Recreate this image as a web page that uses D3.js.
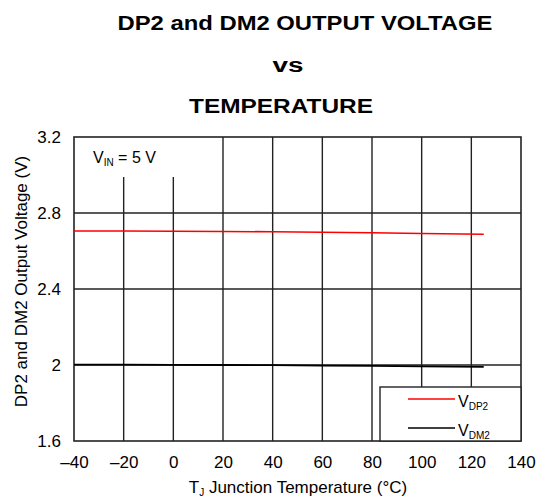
<!DOCTYPE html>
<html>
<head>
<meta charset="utf-8">
<script src="https://cdn.jsdelivr.net/npm/d3@7"></script>
<style>
  body { margin: 0; background: #fff; }
  text { font-family: Arial, "Liberation Sans", sans-serif; fill: #000; }
</style>
</head>
<body>
<div id="chart"></div>
<script>
// Data
const temps = [-40, -20, 0, 20, 40, 60, 80, 100, 125];
const vdp2 = [2.705, 2.705, 2.704, 2.703, 2.701, 2.699, 2.696, 2.692, 2.688];
const vdm2 = [2.002, 2.002, 2.001, 2.0, 1.999, 1.997, 1.995, 1.993, 1.99];
const xTicks = [-40, -20, 0, 20, 40, 60, 80, 100, 120, 140];
const yTicks = [1.6, 2, 2.4, 2.8, 3.2];
const seriesNames = ['V_DP2', 'V_DM2'];

const W = 543, H = 499;
const margin = { top: 137, right: 22, bottom: 58, left: 74 };
const width = W - margin.left - margin.right;
const height = H - margin.top - margin.bottom;

const svg = d3.select('#chart')
  .append('svg')
  .attr('width', W)
  .attr('height', H);

const titles = [
  { t: 'DP2 and DM2 OUTPUT VOLTAGE', x: 305, y: 30, w: 375 },
  { t: 'vs', x: 288, y: 72, w: 31 },
  { t: 'TEMPERATURE', x: 281, y: 113, w: 184 }
];
svg.selectAll('.title')
  .data(titles)
  .enter().append('text')
  .attr('class', 'title')
  .attr('x', d => d.x - d.w / 2)
  .attr('y', d => d.y)
  .attr('textLength', d => d.w)
  .attr('lengthAdjust', 'spacingAndGlyphs')
  .style('font-size', '20px')
  .style('font-weight', 'bold')
  .text(d => d.t);

const g = svg.append('g')
  .attr('transform', `translate(${margin.left},${margin.top})`);

const x = d3.scaleLinear().domain([-40, 140]).range([0, width]);
const y = d3.scaleLinear().domain([1.6, 3.2]).range([height, 0]);

// Legend box position (pixels inside plot)
const legX = 306, legY = 250;

const gridColor = '#222';

// horizontal grid
g.selectAll('.hgrid')
  .data(yTicks.slice(1, -1))
  .enter().append('line')
  .attr('x1', 0).attr('x2', width)
  .attr('y1', d => y(d)).attr('y2', d => y(d))
  .style('stroke', gridColor)
  .style('stroke-width', 1.4);

// vertical grid: some lines shortened around the label and legend
const vStart = { '-20': y(2.99), '0': y(2.99) };
const vEnd = { '100': legY, '120': legY };
g.selectAll('.vgrid')
  .data(xTicks.slice(1, -1))
  .enter().append('line')
  .attr('x1', d => x(d)).attr('x2', d => x(d))
  .attr('y1', d => vStart[d] !== undefined ? vStart[d] : 0)
  .attr('y2', d => vEnd[d] !== undefined ? vEnd[d] : height)
  .style('stroke', gridColor)
  .style('stroke-width', 1.4);

// frame
g.append('rect')
  .attr('width', width).attr('height', height)
  .style('fill', 'none')
  .style('stroke', gridColor)
  .style('stroke-width', 1.6);

// axes
const xAxis = d3.axisBottom(x)
  .tickValues(xTicks)
  .tickSize(0)
  .tickPadding(15)
  .tickFormat(d => d < 0 ? '\u2013' + Math.abs(d) : d);
g.append('g')
  .attr('transform', `translate(0,${height})`)
  .call(xAxis)
  .call(a => a.select('.domain').remove())
  .selectAll('text')
  .style('font-size', '17px')
  .style('font-family', 'Arial, "Liberation Sans", sans-serif')
  .attr('fill', '#000');

const yAxis = d3.axisLeft(y)
  .tickValues(yTicks)
  .tickSize(0)
  .tickPadding(13)
  .tickFormat(d => String(d));
g.append('g')
  .call(yAxis)
  .call(a => a.select('.domain').remove())
  .selectAll('text')
  .style('font-size', '17px')
  .style('font-family', 'Arial, "Liberation Sans", sans-serif')
  .attr('fill', '#000');

// series lines
const line = d3.line()
  .x(d => x(d[0]))
  .y(d => y(d[1]));

g.append('path')
  .datum(temps.map((t, i) => [t, vdm2[i]]))
  .attr('fill', 'none')
  .attr('stroke', '#000')
  .attr('stroke-width', 1.8)
  .attr('d', line);

g.append('path')
  .datum(temps.map((t, i) => [t, vdp2[i]]))
  .attr('fill', 'none')
  .attr('stroke', '#f00')
  .attr('stroke-width', 1.6)
  .attr('d', line);

// V_IN label
const vin = g.append('text')
  .attr('x', 19)
  .attr('y', 26)
  .style('font-size', '16px');
vin.append('tspan').text('V');
vin.append('tspan').attr('dy', 3).style('font-size', '10px').text('IN');
vin.append('tspan').attr('dy', -3).text(' = 5 V');

// legend
g.append('rect')
  .attr('x', legX).attr('y', legY)
  .attr('width', width - legX).attr('height', height - legY)
  .style('fill', '#fff')
  .style('stroke', gridColor)
  .style('stroke-width', 1.4);

const legColors = ['#f00', '#000'];
seriesNames.forEach((name, i) => {
  const ly = legY + 12 + i * 29;
  g.append('line')
    .attr('x1', legX + 28).attr('x2', legX + 75)
    .attr('y1', ly).attr('y2', ly)
    .style('stroke', legColors[i])
    .style('stroke-width', 1.4);
  const t = g.append('text')
    .attr('x', legX + 78)
    .attr('y', ly + 8)
    .style('font-size', '16px');
  t.append('tspan').text('V');
  t.append('tspan').attr('dy', 3).style('font-size', '10px').text(name.split('_')[1]);
});

// axis titles
const xt = svg.append('text')
  .attr('x', 298)
  .attr('y', 493)
  .attr('text-anchor', 'middle')
  .style('font-size', '17px');
xt.append('tspan').text('T');
xt.append('tspan').attr('dy', 3).style('font-size', '10px').text('J');
xt.append('tspan').attr('dy', -3).text(' Junction Temperature (\u00B0C)');

svg.append('text')
  .attr('transform', 'translate(27,281.5) rotate(-90)')
  .attr('text-anchor', 'middle')
  .style('font-size', '17px')
  .text('DP2 and DM2 Output Voltage (V)');
</script>
</body>
</html>
